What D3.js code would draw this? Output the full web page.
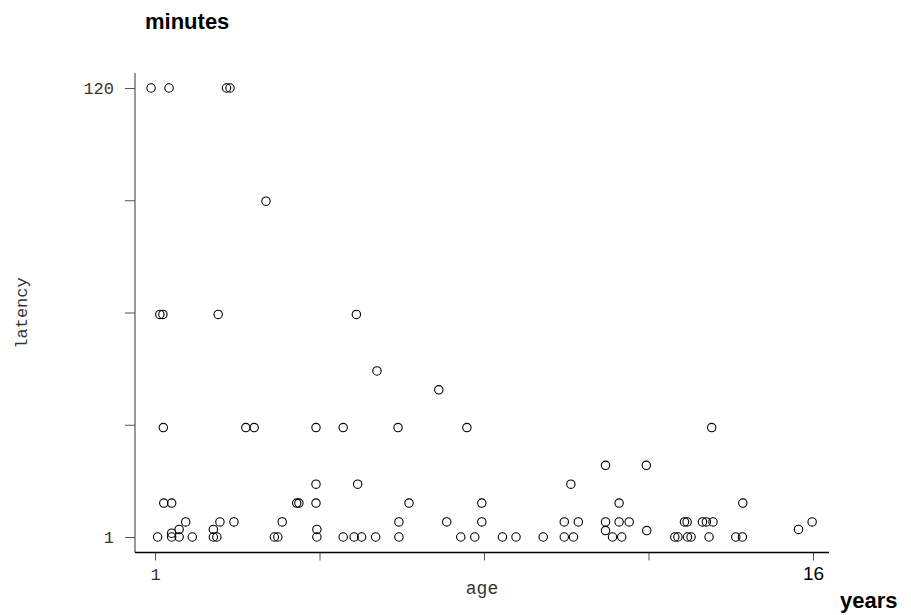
<!DOCTYPE html>
<html>
  <head>
    <meta charset="utf-8">
    <title>latency by age</title>
    <script src="https://d3js.org/d3.v7.min.js"></script>
    <style>
      body { margin: 0; background: #fff; }
      .mono { font-family: "Liberation Mono", "DejaVu Sans Mono", monospace; fill: #333; }
      .bold { font-family: "Liberation Sans", Arial, sans-serif; font-weight: bold; fill: #000; }
      .dot { fill: none; stroke: #000; stroke-width: 1.1; }
      .axis .domain { display: none; }
      .axis line { stroke: #555; }
    </style>
  </head>
  <body>
    <svg id="chart" width="911" height="615"></svg>
    <script>
      // data: age in years, latency in minutes
      var ages = [
        0.91, 1.32, 2.63, 2.71,
        3.53,
        1.11, 1.18, 2.44, 5.59,
        6.06,
        7.47,
        1.19, 3.07, 3.26, 4.67, 5.29, 6.54, 8.11, 13.69,
        11.27, 12.2,
        4.67, 5.62, 10.48,
        1.2, 1.38, 4.23, 4.28, 4.67, 6.79, 8.45, 11.58, 14.4,
        1.7, 2.48, 2.8, 3.9, 6.56, 7.65, 8.45, 10.33, 10.65, 11.27, 11.58, 11.81, 13.07, 13.13, 13.48, 13.57, 13.72, 15.98,
        1.55, 2.33, 4.69, 15.67,
        11.27, 12.21,
        1.38,
        1.06, 1.38, 1.55, 1.85, 2.33, 2.41, 3.72, 3.8, 4.69, 5.29, 5.54, 5.71, 6.03, 6.56, 7.97, 8.29, 8.92, 9.23, 9.85,
        10.33, 10.54, 11.43, 11.64, 12.85, 12.92, 13.14, 13.22, 13.63, 14.24, 14.39
      ];
      var latency = [
        120, 120, 120, 120,
        90,
        60, 60, 60, 60,
        45,
        40,
        30, 30, 30, 30, 30, 30, 30, 30,
        20, 20,
        15, 15, 15,
        10, 10, 10, 10, 10, 10, 10, 10, 10,
        5, 5, 5, 5, 5, 5, 5, 5, 5, 5, 5, 5, 5, 5, 5, 5, 5, 5,
        3, 3, 3, 3,
        2.7, 2.7,
        2,
        1, 1, 1, 1, 1, 1, 1, 1, 1, 1, 1, 1, 1, 1, 1, 1, 1, 1, 1,
        1, 1, 1, 1, 1, 1, 1, 1, 1, 1, 1
      ];
      var xTicks = [1, 4.75, 8.5, 12.25, 16];
      var yTicks = [1, 30.75, 60.5, 90.25, 120];
      var xLabels = { 1: "1", 16: "16" };
      var yLabels = { 1: "1", 120: "120" };

      var points = ages.map(function(a, i) { return { age: a, latency: latency[i] }; });

      var chart = d3.select("#chart");
      var x = d3.scaleLinear().domain([1, 16]).range([155, 813]);
      var y = d3.scaleLinear().domain([1, 120]).range([537, 88]);
      var frame = { left: 135, bottom: 552.5, top: 73, right: 829 };

      // axes
      var xAxis = d3.axisBottom(x)
        .tickValues(xTicks)
        .tickSizeInner(8)
        .tickSizeOuter(0)
        .tickFormat(function(d) { return xLabels[d] || ""; });
      var yAxis = d3.axisLeft(y)
        .tickValues(yTicks)
        .tickSizeInner(10)
        .tickSizeOuter(0)
        .tickFormat(function(d) { return yLabels[d] || ""; });

      var gx = chart.append("g")
        .attr("class", "axis")
        .attr("transform", "translate(0," + frame.bottom + ")")
        .call(xAxis);
      gx.selectAll("text")
        .attr("y", 27)
        .attr("dy", 0)
        .attr("class", function(d) { return d == 16 ? "" : "mono"; })
        .style("font-family", function(d) { return d == 16 ? "'Liberation Sans', Arial, sans-serif" : null; })
        .style("font-size", function(d) { return d == 16 ? "19px" : "17px"; })
        .style("fill", function(d) { return d == 16 ? "#000" : null; });

      var gy = chart.append("g")
        .attr("class", "axis")
        .attr("transform", "translate(" + frame.left + ",0)")
        .call(yAxis);
      gy.selectAll("text")
        .attr("x", -21)
        .attr("dy", "0.35em")
        .attr("class", "mono")
        .style("font-size", "17px");

      // frame lines
      chart.append("line")
        .attr("x1", frame.left).attr("x2", frame.left)
        .attr("y1", frame.top).attr("y2", frame.bottom)
        .attr("stroke", "#555").attr("stroke-width", 1.2);
      chart.append("line")
        .attr("x1", frame.left).attr("x2", frame.right)
        .attr("y1", frame.bottom).attr("y2", frame.bottom)
        .attr("stroke", "#000").attr("stroke-width", 1.5);

      // points
      chart.append("g")
        .selectAll("circle")
        .data(points)
        .enter()
        .append("circle")
          .attr("class", "dot")
          .attr("cx", function(d) { return x(d.age); })
          .attr("cy", function(d) { return y(d.latency); })
          .attr("r", 4.2);

      // labels
      chart.append("text")
        .attr("class", "bold")
        .attr("x", 145).attr("y", 29)
        .style("font-size", "22px")
        .text("minutes");
      chart.append("text")
        .attr("class", "bold")
        .attr("x", 840).attr("y", 608)
        .style("font-size", "22px")
        .text("years");
      chart.append("text")
        .attr("class", "mono")
        .attr("text-anchor", "middle")
        .attr("x", 482).attr("y", 594)
        .style("font-size", "18px")
        .text("age");
      chart.append("text")
        .attr("class", "mono")
        .attr("text-anchor", "middle")
        .attr("transform", "translate(27,313) rotate(-90)")
        .style("font-size", "17px")
        .text("latency");
    </script>
  </body>
</html>
